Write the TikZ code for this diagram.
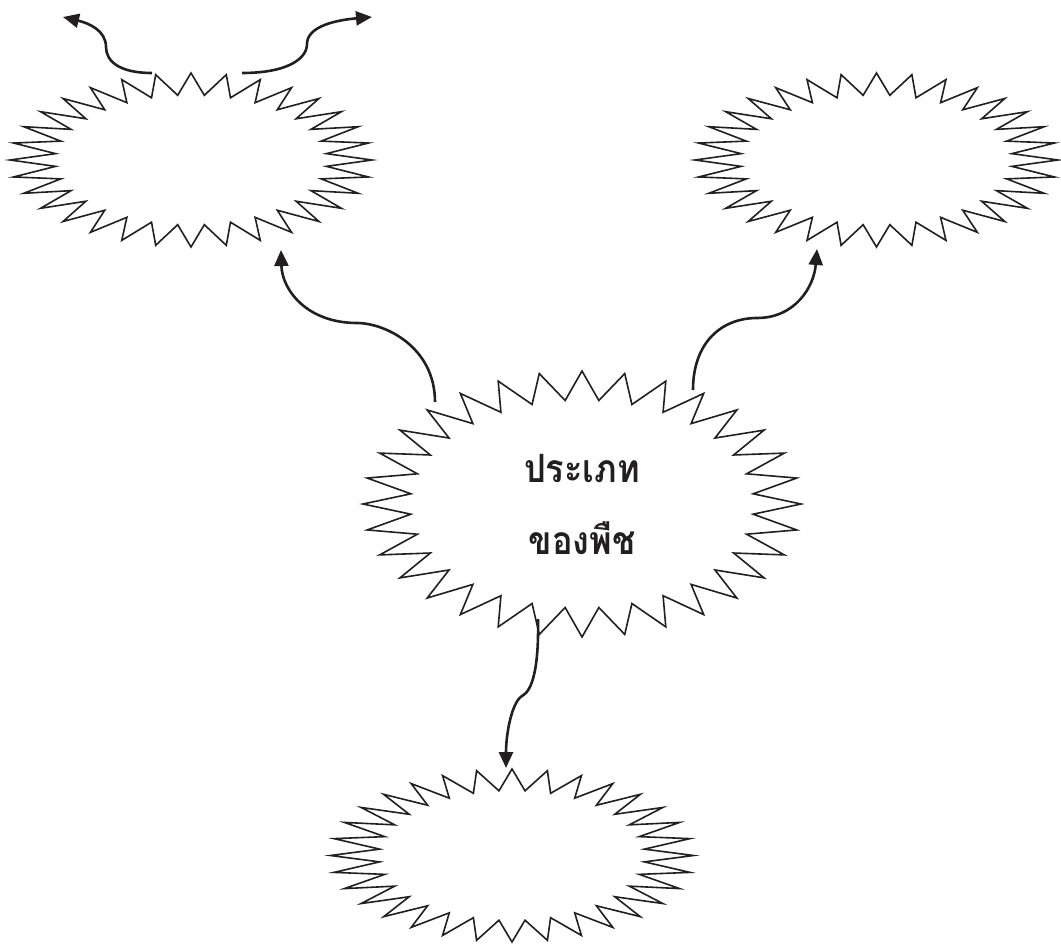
\documentclass[tikz,border=0pt]{standalone}
\usepackage{fontspec}
\newfontfamily\thaifont[Script=Thai,FakeStretch=0.88]{Loma}
\usetikzlibrary{calc,arrows.meta}
\definecolor{ink}{HTML}{231F20}
\newcommand\burstdraw[5]{%
  \draw[burstline] ($(#1)+(#2,0)$)
    \foreach \k in {1,...,63}{
      -- ($(#1)+({(#4+(#2-#4)*iseven(\k))*cos(\k*5.625)},{(#5+(#3-#5)*iseven(\k))*sin(\k*5.625)})$)}
    -- cycle;}
\begin{document}
\begin{tikzpicture}[x=1pt,y=-1pt,
  burstline/.style={draw=ink,line width=1.6pt,line join=miter,miter limit=20},
  conn/.style={draw=ink,line width=2.6pt,-{Triangle[length=16pt,width=14pt]}},
  lbl/.style={font=\thaifont\bfseries\fontsize{39}{72}\selectfont,align=center,text=ink,inner sep=0pt}]
\useasboundingbox (0,0) rectangle (1061,945);
% centres of the bursts
\coordinate (tl) at (191,160);
\coordinate (tr) at (876.5,160);
\coordinate (bt) at (512,855.5);
\node[lbl] (c) at (582,504) {ประเภท\\ของพืช};
% bursts
\burstdraw{tl}{181}{87}{136}{65}
\burstdraw{tr}{181.5}{87}{136}{65}
\burstdraw{bt}{181.5}{86.5}{133}{65}
\burstdraw{c}{219}{133}{172}{104}
% connectors
\draw[conn] ($(c)+(-147,-102)$) .. controls +(0,-55) and +(28,0) .. ($(c)+(-225,-181)$)
  .. controls +(-50,0) and +(1,40) .. ($(tl)+(90,90)$);
\draw[conn] ($(c)+(111,-114)$) .. controls +(0,-48) and +(-35,0) .. ($(c)+(175,-186)$)
  .. controls +(38,0) and +(-3,38) .. ($(tr)+(-59.5,89)$);
\draw[conn] ($(c)+(-44,115)$) .. controls +(1,50) and +(10,-5) .. ($(c)+(-60,192)$)
  .. controls +(-10,6) and +(0,-35) .. ($(bt)+(-6,-87.5)$);
\draw[conn] ($(tl)+(-39,-87)$) .. controls +(-33,0) and +(0,14) .. ($(tl)+(-85,-113)$)
  .. controls +(0,-17) and +(25,6) .. ($(tl)+(-128,-143)$);
\draw[conn] ($(tl)+(51,-87)$) .. controls +(45,0) and +(0,15) .. ($(tl)+(116,-116)$)
  .. controls +(0,-18) and +(-35,3) .. ($(tl)+(181,-143)$);
\end{tikzpicture}
\end{document}
